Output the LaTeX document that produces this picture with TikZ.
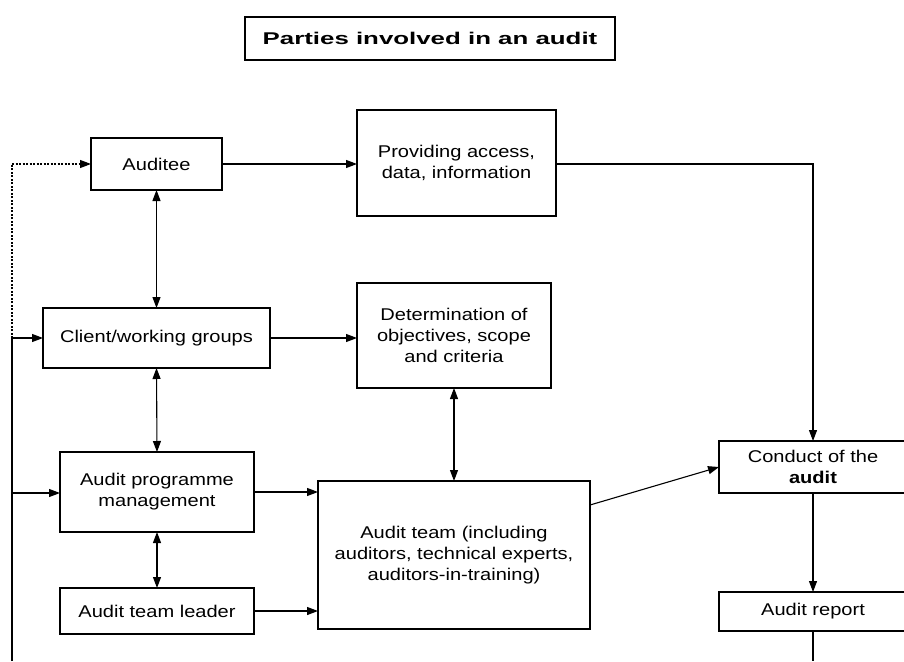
\documentclass[tikz,border=0pt]{standalone}
\usepackage{fontspec}
\setmainfont{Liberation Sans}[FakeStretch=1.18]
\newfontfamily\titlefont{Liberation Sans}[FakeStretch=1.52]
\usetikzlibrary{arrows.meta}

\tikzset{
  tip/.tip={Triangle[length=11pt,width=8pt]},
  box/.style={draw, line width=1.1pt, inner sep=2pt, outer sep=0pt, align=center,
    font=\fontsize{17}{21}\selectfont},
  link/.style={line width=1.1pt, -tip},
  twoway/.style={line width=1.1pt, tip-tip},
  plain/.style={line width=1.1pt},
  dots/.style={line width=1.1pt, dash pattern=on 2pt off 1.5pt}
}

\begin{document}
\begin{tikzpicture}[x=1pt, y=-1pt]
  \clip (0,0) rectangle (904,661);
  \fill[white] (0,0) rectangle (904,661);

  % heading
  \node[box, minimum width=370pt, minimum height=43pt,
        font=\titlefont\bfseries\fontsize{17}{21}\selectfont] (title) at (430,38.5)
        {Parties involved in an audit};

  % parties and activities
  \node[box, minimum width=131pt, minimum height=52pt]  (auditee) at (156.5,164) {Auditee};
  \node[box, minimum width=199pt, minimum height=106pt] (provide) at (456.5,163)
        {Providing access,\\data, information};
  \node[box, minimum width=227pt, minimum height=60pt]  (client)  at (156.5,338) {Client/working groups};
  \node[box, minimum width=194pt, minimum height=105pt] (determ)  at (454,335.5)
        {Determination of\\objectives, scope\\and criteria};
  \node[box, minimum width=194pt, minimum height=80pt]  (apm)     at (157,492)
        {Audit programme\\management};
  \node[box, minimum width=272pt, minimum height=148pt] (team)    at (454,555)
        {Audit team (including\\auditors, technical experts,\\auditors-in-training)};
  \node[box, minimum width=194pt, minimum height=46pt]  (leader)  at (157,611) {Audit team leader};
  \node[box, minimum width=188pt, minimum height=52pt]  (conduct) at (813,467)
        {Conduct of the\\\textbf{audit}};
  \node[box, minimum width=188pt, minimum height=39pt]  (report)  at (813,611.5) {Audit report};

  % left-hand feed line
  \coordinate (busTop) at (12,164);
  \coordinate (busMid) at (12,338);
  \coordinate (busApm) at (12,493);
  \coordinate (busEnd) at (12,661);
  \coordinate (reportEnd) at (813,661);

  \draw[dots] (busMid) -- (busTop);
  \draw[dots, -tip] (busTop) -- (auditee.west);
  \draw[plain] (busEnd) -- (busMid);
  \draw[link] (busMid) -- (client.west);
  \draw[link] (busApm) -- (busApm -| apm.west);

  % connectors between the boxes
  \draw[link] (auditee.east) -- (auditee.east -| provide.west);
  \draw[link] (provide.east |- auditee.east) -| (conduct.north);
  \draw[twoway] (auditee.south) -- (client.north);
  \draw[link] (client.east) -- (client.east -| determ.west);
  \draw[twoway] (client.south) -- (apm.north);
  \draw[twoway] (apm.south) -- (leader.north);
  \draw[twoway] (determ.south) -- (team.north);
  \draw[link] (apm.east) -- (apm.east -| team.west);
  \draw[link] (leader.east) -- (leader.east -| team.west);
  \draw[link] ([yshift=50pt]team.east) -- (conduct.west);
  \draw[link] (conduct.south) -- (report.north);
  \draw[plain] (report.south) -- (reportEnd);
\end{tikzpicture}
\end{document}
